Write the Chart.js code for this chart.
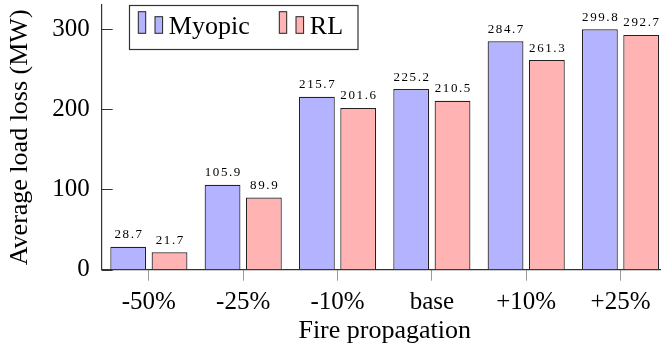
<!DOCTYPE html>
<html><head><meta charset="utf-8">
<script src="https://cdn.jsdelivr.net/npm/chart.js@4/dist/chart.umd.min.js"></script>
<style>
html,body{margin:0;padding:0;background:#fff;overflow:hidden;}
#wrap{position:relative;width:670px;height:354px;}
</style></head><body>
<div id="wrap"><canvas id="c"></canvas></div>
<script>
const categories = ['-50%', '-25%', '-10%', 'base', '+10%', '+25%'];
const myopic = [28.7, 105.9, 215.7, 225.2, 284.7, 299.8];
const rl = [21.7, 89.9, 201.6, 210.5, 261.3, 292.7];
const seriesNames = ['Myopic', 'RL'];
const yTicks = [0, 100, 200, 300];
const yMin = 0, yMax = 330;
const xTitle = 'Fire propagation';
const yTitle = 'Average load loss (MW)';

const SERIF = '"Liberation Serif", "Times New Roman", serif';
const AXIS = '#333';

const innerYTicks = {
  id: 'innerYTicks',
  afterDraw(chart) {
    const y = chart.scales.y, ctx = chart.ctx;
    ctx.save();
    ctx.strokeStyle = AXIS; ctx.lineWidth = 1;
    yTicks.forEach(v => {
      const p = Math.round(y.getPixelForValue(v)) + 0.5;
      ctx.beginPath(); ctx.moveTo(y.right, p); ctx.lineTo(y.right + 11, p); ctx.stroke();
    });
    ctx.restore();
  }
};

const valueLabels = {
  id: 'valueLabels',
  afterDatasetsDraw(chart) {
    const ctx = chart.ctx;
    ctx.save();
    ctx.font = '13px ' + SERIF;
    ctx.letterSpacing = '1.6px';
    ctx.fillStyle = '#000';
    ctx.textAlign = 'center';
    ctx.textBaseline = 'alphabetic';
    chart.data.datasets.forEach((ds, i) => {
      chart.getDatasetMeta(i).data.forEach((bar, j) => {
        ctx.fillText(ds.data[j].toFixed(1), bar.x + 0.8, bar.y - 8.5);
      });
    });
    ctx.restore();
  }
};

const boxLegend = {
  id: 'boxLegend',
  afterDraw(chart) {
    const ctx = chart.ctx;
    ctx.save();
    ctx.fillStyle = '#fff';
    ctx.fillRect(129.5, 5.5, 228.5, 44);
    ctx.strokeStyle = AXIS; ctx.lineWidth = 1.2;
    ctx.strokeRect(129.5, 5.5, 228.5, 44);
    const starts = [138.3, 279.3];
    chart.data.datasets.forEach((ds, i) => {
      const x0 = starts[i];
      ctx.fillStyle = ds.backgroundColor;
      ctx.strokeStyle = '#222'; ctx.lineWidth = 1;
      ctx.fillRect(x0, 11.7, 7.4, 21.6); ctx.strokeRect(x0, 11.7, 7.4, 21.6);
      ctx.fillRect(x0 + 16.7, 16.7, 7.6, 16.6); ctx.strokeRect(x0 + 16.7, 16.7, 7.6, 16.6);
      ctx.fillStyle = '#000';
      ctx.font = '26px ' + SERIF;
      ctx.textAlign = 'left'; ctx.textBaseline = 'alphabetic';
      ctx.fillText(ds.label, x0 + 30.5, 34.3);
    });
    ctx.restore();
  }
};

new Chart(document.getElementById('c'), {
  type: 'bar',
  data: {
    labels: categories,
    datasets: [
      { label: seriesNames[0], data: myopic, backgroundColor: '#b3b3ff', borderColor: '#222', borderWidth: 1.2 },
      { label: seriesNames[1], data: rl, backgroundColor: '#ffb3b3', borderColor: '#222', borderWidth: 1.2 }
    ]
  },
  options: {
    responsive: true,
    maintainAspectRatio: false,
    animation: false,
    devicePixelRatio: 1,
    categoryPercentage: 0.876,
    barPercentage: 0.867,
    layout: { padding: { top: 5, right: 2.3, bottom: 0, left: 0 } },
    plugins: { legend: { display: false }, tooltip: { enabled: false } },
    scales: {
      x: {
        type: 'category',
        offset: true,
        grid: { offset: false, drawOnChartArea: false, drawTicks: true, tickLength: 11, color: '#9a9a9a', lineWidth: 1 },
        border: { color: AXIS, width: 1.2 },
        ticks: { font: { family: SERIF, size: 25 }, color: '#000', padding: 6.5, maxRotation: 0, autoSkip: false },
        title: { display: true, text: xTitle, color: '#000', font: { family: SERIF, size: 26 }, padding: { top: 0, bottom: 7 } },
        afterFit(s) { s.height = 84.3; s.paddingLeft = 0; s.paddingRight = 0; }
      },
      y: {
        type: 'linear',
        bounds: 'data',
        min: yMin, max: yMax,
        grid: { drawOnChartArea: false, drawTicks: false },
        border: { color: AXIS, width: 1.2 },
        ticks: { stepSize: 100, font: { family: SERIF, size: 25 }, color: '#000', padding: 12, includeBounds: false },
        afterBuildTicks(s) { s.ticks = yTicks.map(v => ({ value: v })); },
        title: { display: true, text: yTitle, color: '#000', font: { family: SERIF, size: 26 }, padding: { top: 4.4, bottom: 0 } },
        afterFit(s) { s.width = 101.7; s.paddingTop = 0; s.paddingBottom = 0; }
      }
    }
  },
  plugins: [innerYTicks, valueLabels, boxLegend]
});
</script>
</body></html>
